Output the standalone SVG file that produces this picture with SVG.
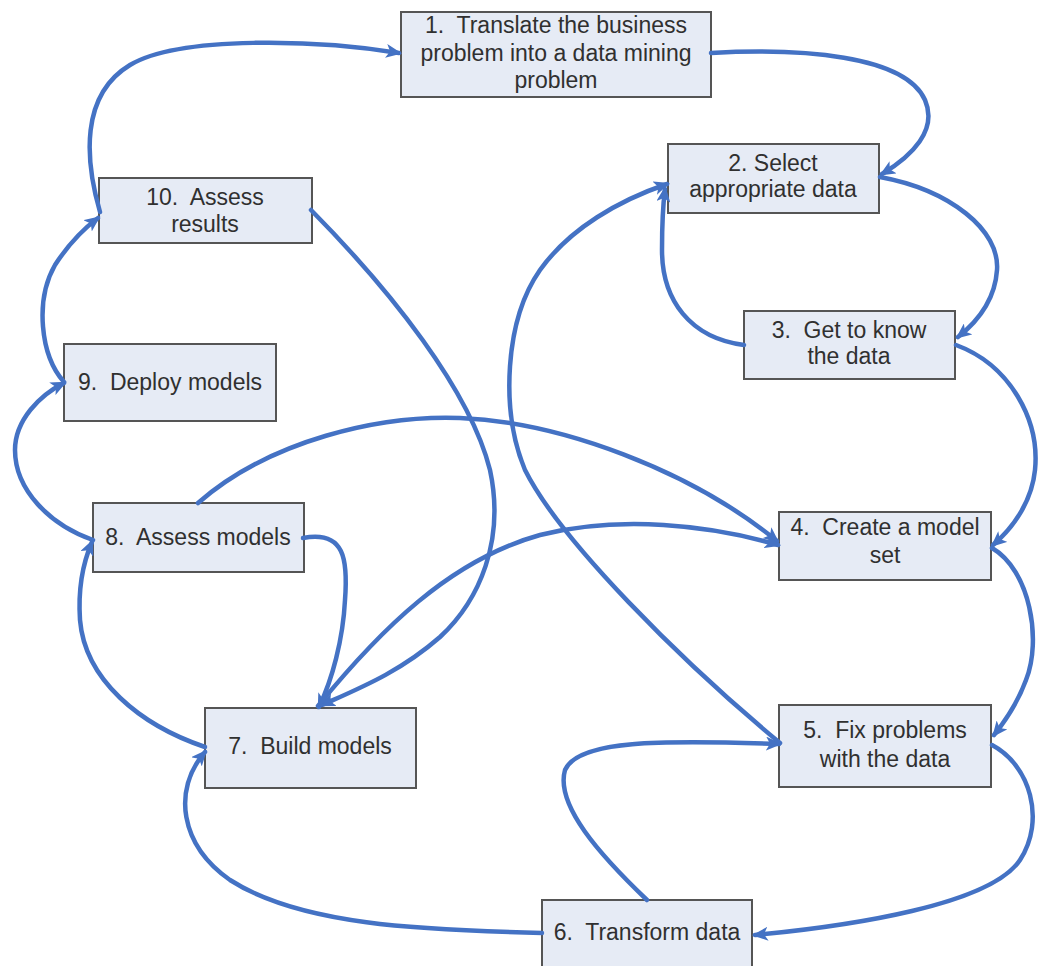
<svg xmlns="http://www.w3.org/2000/svg" width="1040" height="966" viewBox="0 0 1040 966">
<style>
.box{fill:#e6ebf5;stroke:#555;stroke-width:2}
.t{font-family:"Liberation Sans",Arial,sans-serif;font-size:23px;fill:#303030;text-anchor:middle;white-space:pre}
.c{fill:none;stroke:#4472c4;stroke-width:4.5;stroke-linecap:round;marker-end:url(#ah)}
</style>
<defs>
<marker id="ah" viewBox="0 0 16 14" refX="13" refY="7" markerWidth="16" markerHeight="14" orient="auto" markerUnits="userSpaceOnUse">
<path d="M0,0 L16,7 L0,14 L4,7 z" fill="#4472c4"/>
</marker>
</defs>
<rect width="1040" height="966" fill="#fff"/>
<g id="n1"><rect class="box" x="401" y="12" width="310" height="85"/><text class="t" x="556" y="33" xml:space="preserve">1.  Translate the business</text><text class="t" x="556" y="61">problem into a data mining</text><text class="t" x="556" y="88">problem</text></g>
<g id="n2"><rect class="box" x="668" y="144" width="211" height="69"/><text class="t" x="773" y="171">2. Select</text><text class="t" x="773" y="197">appropriate data</text></g>
<g id="n3"><rect class="box" x="744" y="311" width="211" height="68"/><text class="t" x="849" y="338" xml:space="preserve">3.  Get to know</text><text class="t" x="849" y="364">the data</text></g>
<g id="n4"><rect class="box" x="779" y="512" width="212" height="68"/><text class="t" x="885" y="535" xml:space="preserve">4.  Create a model</text><text class="t" x="885" y="563">set</text></g>
<g id="n5"><rect class="box" x="779" y="705" width="212" height="82"/><text class="t" x="885" y="738" xml:space="preserve">5.  Fix problems</text><text class="t" x="885" y="767">with the data</text></g>
<g id="n6"><rect class="box" x="542" y="900" width="210" height="80"/><text class="t" x="647" y="940" xml:space="preserve">6.  Transform data</text></g>
<g id="n7"><rect class="box" x="205" y="708" width="211" height="80"/><text class="t" x="310" y="754" xml:space="preserve">7.  Build models</text></g>
<g id="n8"><rect class="box" x="93" y="503" width="211" height="69"/><text class="t" x="198" y="545" xml:space="preserve">8.  Assess models</text></g>
<g id="n9"><rect class="box" x="64" y="344" width="212" height="77"/><text class="t" x="170" y="390" xml:space="preserve">9.  Deploy models</text></g>
<g id="n10"><rect class="box" x="99" y="178" width="213" height="65"/><text class="t" x="205" y="205" xml:space="preserve">10.  Assess</text><text class="t" x="205" y="232">results</text></g>
<g id="connectors">
<path class="c" d="M100,212 C85,160 80,95 130,65 C180,35 320,40 399,53"/>
<path class="c" d="M711,53 C800,48 905,55 925,100 C938,130 912,156 882,174"/>
<path class="c" d="M880,177 C950,190 1000,230 997,270 C995,300 977,322 958,337"/>
<path class="c" d="M744,345 C690,338 662,300 662,250 C662,225 663,205 665,189"/>
<path class="c" d="M956,345 C1010,365 1040,420 1035,470 C1032,500 1015,526 993,545"/>
<path class="c" d="M992,548 C1030,570 1042,640 1026,680 C1018,702 1006,720 994,735"/>
<path class="c" d="M992,745 C1030,765 1046,820 1020,860 C990,905 850,926 755,935"/>
<path class="c" d="M647,900 C600,855 555,805 565,770 C578,740 660,740 779,744"/>
<path class="c" d="M542,933 C420,930 300,925 230,880 C180,845 172,790 205,752"/>
<path class="c" d="M205,747 C140,725 85,680 80,620 C78,590 82,565 92,542"/>
<path class="c" d="M303,538 C345,530 348,560 345,600 C343,640 332,680 319,707"/>
<path class="c" d="M93,540 C50,525 15,490 15,450 C15,420 40,395 64,383"/>
<path class="c" d="M64,382 C40,355 35,300 55,265 C68,245 82,230 98,218"/>
<path class="c" d="M311,210 C390,290 470,390 490,470 C505,540 480,600 440,637 C400,672 360,688 322,705"/>
<path class="c" d="M198,503 C270,440 380,415 460,418 C560,422 690,470 777,541"/>
<path class="c" d="M318,706 C380,630 450,560 540,535 C620,515 710,525 778,545"/>
<path class="c" d="M780,743 C680,660 560,540 525,470 C500,410 505,320 540,270 C570,228 620,200 667,184"/>
</g>
</svg>
